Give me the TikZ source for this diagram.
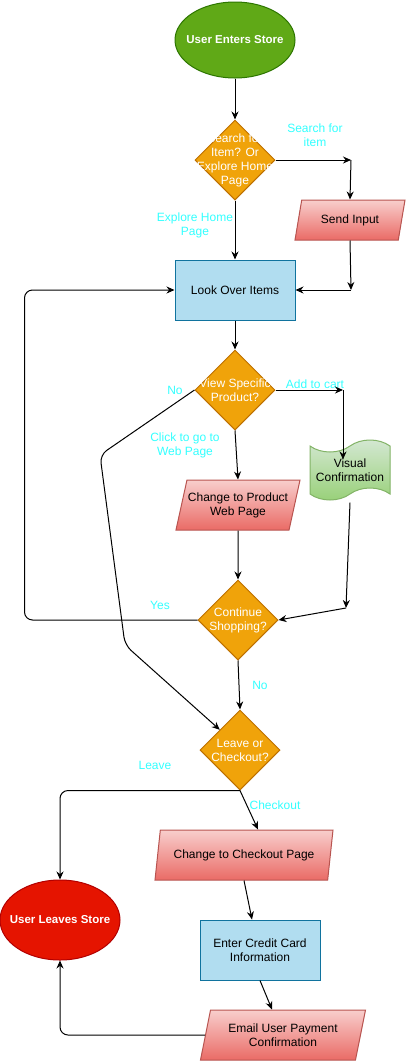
\documentclass[tikz,border=0pt]{standalone}
\usepackage{fontspec}
\setmainfont{Liberation Sans}
\usepackage{xcolor}
\usepackage{tikz}
\usetikzlibrary{shapes.geometric, shapes.symbols, arrows.meta}

\definecolor{startfill}{HTML}{60A917}
\definecolor{startline}{HTML}{2D7600}
\definecolor{stopfill}{HTML}{E51400}
\definecolor{stopline}{HTML}{B20000}
\definecolor{decfill}{HTML}{F0A30A}
\definecolor{decline}{HTML}{BD7000}
\definecolor{procfill}{HTML}{B1DDF0}
\definecolor{procline}{HTML}{10739E}
\definecolor{iotop}{HTML}{F8CECC}
\definecolor{iobottom}{HTML}{EA6B66}
\definecolor{ioline}{HTML}{B85450}
\definecolor{tapetop}{HTML}{D5E8D4}
\definecolor{tapebottom}{HTML}{97D077}
\definecolor{tapeline}{HTML}{82B366}
\definecolor{lblcyan}{HTML}{33FFFF}

\begin{document}
\begin{tikzpicture}[x=1pt, y=-1pt, line width=1pt,
        font=\fontsize{12}{14}\selectfont,
        every node/.style={align=center, inner sep=2pt},
        terminal/.style={ellipse, draw, inner sep=0pt, minimum width=120pt,
        minimum height=76pt},
        termtext/.style={text=white, font=\fontsize{11.5}{14}\selectfont\bfseries},
        decision/.style={diamond, draw=decline, fill=decfill, inner sep=0pt,
        minimum width=80pt, minimum height=80pt},
        process/.style={rectangle, draw=procline, fill=procfill,
        minimum width=120pt, minimum height=60pt},
        io/.style={trapezium, trapezium stretches body, draw=ioline,
        top color=iotop, bottom color=iobottom, inner sep=1pt},
        lbl/.style={text=lblcyan},
        arr/.style={-{Stealth[length=8pt, width=7pt]}}]
        \useasboundingbox (0,0) rectangle (406,1061);

        \node[terminal, fill=startfill, draw=startline,
            label={[termtext]center:User Enters Store}] (A) at (235,40) {};
        \node[decision, label={[text=white]center:{Search for\\Item? Or\\Explore Home\\Page}}] (B) at (235,160) {};
        \node[io, trapezium left angle=63, trapezium right angle=117,
            minimum width=110pt, minimum height=40pt] (C) at (350,220) {Send Input};
        \node[process] (D) at (235,290) {Look Over Items};
        \node[decision, label={[text=white]center:{View Specific\\Product?}}] (E) at (235,390) {};
        \node[tape, draw=tapeline, top color=tapetop, bottom color=tapebottom,
            minimum width=80pt, minimum height=60pt, tape bend height=12pt] (F) at (350,470) {Visual\\Confirmation};
        \node[io, trapezium left angle=68, trapezium right angle=112,
            minimum width=124pt, minimum height=50pt] (G) at (238,505) {Change to Product\\Web Page};
        \node[decision, label={[text=white]center:{Continue\\Shopping?}}] (H) at (238,620) {};
        \node[decision, label={[text=white]center:{Leave or\\Checkout?}}] (I) at (240,750) {};
        \node[io, trapezium left angle=68, trapezium right angle=112,
            minimum width=178pt, minimum height=50pt] (J) at (244,855) {Change to Checkout Page};
        \node[process] (K) at (260,950) {Enter Credit Card\\Information};
        \node[io, trapezium left angle=68, trapezium right angle=112,
            minimum width=165pt, minimum height=50pt] (L) at (283,1035) {Email User Payment\\Confirmation};
        \node[terminal, fill=stopfill, draw=stopline, minimum height=80pt,
            label={[termtext]center:User Leaves Store}] (M) at (60,920) {};

        \coordinate (p1) at (351,160);
        \coordinate (p2) at (351,290);
        \coordinate (p3) at (343,390);
        \coordinate (p4) at (346,608);

        \node[lbl] (t1) at (315,135) {Search for\\item};
        \node[lbl] (t2) at (195,225) {Explore Home\\Page};
        \node[lbl] (t3) at (315,384) {Add to cart};
        \node[lbl] (t4) at (175,390) {No};
        \node[lbl] (t5) at (185,445) {Click to go to\\Web Page};
        \node[lbl] (t6) at (160,605) {Yes};
        \node[lbl] (t7) at (260,685) {No};
        \node[lbl] (t8) at (155,765) {Leave};
        \node[lbl] (t9) at (275,805) {Checkout};

        \draw[arr] (A) -- (B);
        \draw[arr] (B.east) -- (p1);
        \draw[arr] (p1) -- (C.north);
        \draw[arr] (C.south) -- (p2);
        \draw[arr] (p2) -- (D.east);
        \draw[arr] (B.south) -- (D.north);
        \draw[arr] (D) -- (E);
        \draw[arr] (E.east) -- (p3);
        \draw[arr] (p3) -- ([yshift=-14pt]p3 |- F.north);
        \draw[arr] (E.south) -- (G.north);
        \draw[arr, rounded corners=8pt] (E.west) -- (100,455) -- (125,645) -- (I.north west);
        \draw[arr] (G.south) -- (H.north);
        \draw[arr] ([yshift=-8pt]F.south) -- (p4);
        \draw[arr] (p4) -- (H.east);
        \draw[arr, rounded corners=8pt] (H.west) -- ++(-173,0) |- (D.west);
        \draw[arr] (H.south) -- (I.north);
        \draw[arr, rounded corners=8pt] (I.south) -| (M.north);
        \draw[arr] (I.south) -- ([xshift=14pt]J.north);
        \draw[arr] (J.south) -- ([xshift=-8pt]K.north);
        \draw[arr] (K.south) -- ([xshift=-11pt]L.north);
        \draw[arr, rounded corners=8pt] (L.west) -| (M.south);
    \end{tikzpicture}
\end{document}
